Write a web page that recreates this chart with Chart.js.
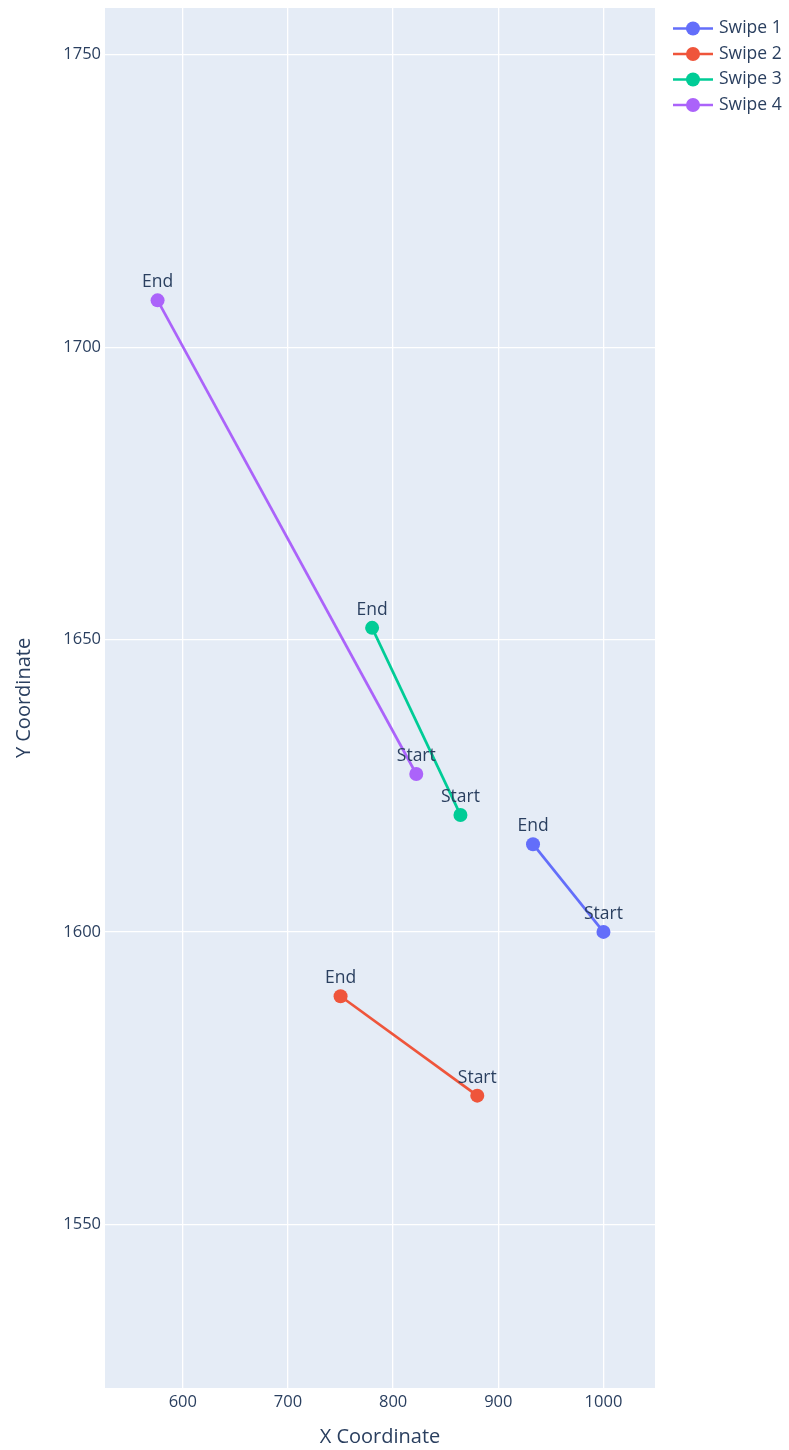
<!DOCTYPE html>
<html>
<head>
<meta charset="utf-8">
<script src="https://cdn.jsdelivr.net/npm/chart.js@4.4.0/dist/chart.umd.min.js"></script>
<style>
body { margin: 0; background: #fff; }
#wrap { width: 789px; height: 1450px; position: relative; }
</style>
</head>
<body>
<div id="wrap"><canvas id="swipeChart"></canvas></div>
<script>
const swipeNames = ['Swipe 1', 'Swipe 2', 'Swipe 3', 'Swipe 4'];
const swipeColors = ['#636efa', '#ef553b', '#00cc96', '#ab63fa'];
const pointLabels = ['Start', 'End'];
const startX = [1000, 880, 864, 822];
const startY = [1600, 1572, 1620, 1627];
const endX = [933, 750, 780, 576];
const endY = [1615, 1589, 1652, 1708];
const xTicks = [600, 700, 800, 900, 1000];
const yTicks = [1550, 1600, 1650, 1700, 1750];

const textColor = '#2a3f5f';
Chart.defaults.font.family = '"Open Sans", sans-serif';
Chart.defaults.color = textColor;

// plotly-like light blue plot area
const plotBg = {
    id: 'plotBg',
    beforeDraw(chart) {
        const {ctx, chartArea: a} = chart;
        ctx.save();
        ctx.fillStyle = '#e5ecf6';
        ctx.fillRect(a.left, a.top, a.right - a.left, a.bottom - a.top);
        ctx.restore();
    }
};

// Start / End text above each marker
const pointText = {
    id: 'pointText',
    afterDatasetsDraw(chart) {
        const ctx = chart.ctx;
        ctx.save();
        ctx.font = '17.5px "Open Sans", sans-serif';
        ctx.fillStyle = textColor;
        ctx.textAlign = 'center';
        ctx.textBaseline = 'alphabetic';
        chart.data.datasets.forEach((ds, i) => {
            chart.getDatasetMeta(i).data.forEach((pt, j) => {
                ctx.fillText(pointLabels[j], pt.x, pt.y - 13);
            });
        });
        ctx.restore();
    }
};

const swipeLegend = {
    id: 'swipeLegend',
    afterDraw(chart) {
        const ctx = chart.ctx;
        ctx.save();
        ctx.font = '17.5px "Open Sans", sans-serif';
        ctx.textBaseline = 'middle';
        chart.data.datasets.forEach((ds, i) => {
            const y = 28.5 + i * 25.5;
            ctx.strokeStyle = ds.borderColor;
            ctx.lineWidth = 2.7;
            ctx.beginPath();
            ctx.moveTo(673, y);
            ctx.lineTo(713, y);
            ctx.stroke();
            ctx.fillStyle = ds.borderColor;
            ctx.beginPath();
            ctx.arc(693, y, 7, 0, Math.PI * 2);
            ctx.fill();
            ctx.fillStyle = textColor;
            ctx.fillText(ds.label, 719, y);
        });
        ctx.restore();
    }
};

const datasets = swipeNames.map((name, i) => ({
    label: name,
    data: [{x: startX[i], y: startY[i]}, {x: endX[i], y: endY[i]}],
    showLine: true,
    borderColor: swipeColors[i],
    backgroundColor: swipeColors[i],
    borderWidth: 2.7,
    pointRadius: 7,
    pointHoverRadius: 7,
    pointBorderWidth: 0
}));

const ctx = document.getElementById('swipeChart').getContext('2d');
const chart = new Chart(ctx, {
    type: 'scatter',
    data: {datasets: datasets},
    plugins: [plotBg, pointText, swipeLegend],
    options: {
        responsive: true,
        maintainAspectRatio: false,
        animation: false,
        layout: {padding: {top: 8, right: 134, bottom: 0, left: 0}},
        plugins: {
            legend: {display: false},
            tooltip: {enabled: false}
        },
        scales: {
            x: {
                type: 'linear',
                min: 526,
                max: 1049,
                afterFit: s => { s.height = 62; s.paddingLeft = 0; s.paddingRight = 0; },
                afterBuildTicks: s => { s.ticks = xTicks.map(v => ({value: v})); },
                grid: {color: '#ffffff', lineWidth: 1.3, drawTicks: false},
                border: {display: false},
                ticks: {padding: 4, font: {size: 16.5}, color: textColor, callback: v => String(v)},
                title: {
                    display: true,
                    text: 'X Coordinate',
                    font: {size: 20},
                    color: textColor,
                    padding: {top: 0, bottom: 1}
                }
            },
            y: {
                type: 'linear',
                min: 1522,
                max: 1758,
                afterFit: s => { s.width = 105; s.paddingTop = 0; s.paddingBottom = 0; },
                afterBuildTicks: s => { s.ticks = yTicks.map(v => ({value: v})); },
                grid: {color: '#ffffff', lineWidth: 1.3, drawTicks: false},
                border: {display: false},
                ticks: {padding: 4, font: {size: 16.5}, color: textColor, callback: v => String(v)},
                title: {
                    display: true,
                    text: 'Y Coordinate',
                    font: {size: 20},
                    color: textColor,
                    padding: {top: 12, bottom: 0}
                }
            }
        }
    }
});
</script>
</body>
</html>
